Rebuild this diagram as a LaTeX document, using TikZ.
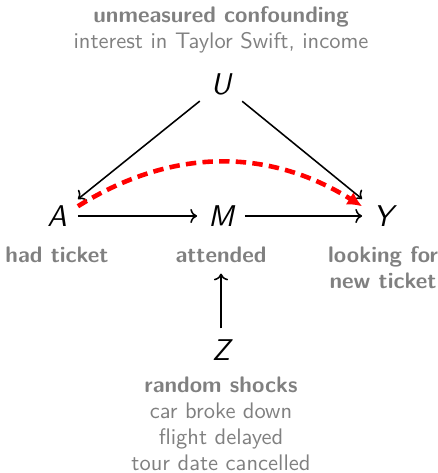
\documentclass[tikz,border=0pt]{standalone}
\usetikzlibrary{arrows.meta}

\tikzset{every picture/.style={line width=0.75pt}}
\tikzset{
  var/.style={font=\sffamily\itshape\Large, inner sep=5pt},
  note/.style={font=\sffamily\fontsize{10.8pt}{12.4pt}\selectfont, text=gray, align=center, inner sep=0.75pt},
  notehead/.style={note, font=\sffamily\bfseries\fontsize{10.8pt}{12.4pt}\selectfont},
  causal/.style={->},
  bias/.style={-{Latex[length=7pt,width=7pt]}, draw=red, line width=2.2pt, dash pattern=on 5pt off 3pt},
}

\begin{document}
\begin{tikzpicture}[x=0.48pt,y=0.48pt,yscale=-1,xscale=1]
\useasboundingbox (0,0) rectangle (438,473);

% Variables
\node [var] (U) at (221,84) {U};
\node [var] (A) at (57,216) {A};
\node [var] (M) at (221,216) {M};
\node [var] (Y) at (383,216) {Y};
\node [var] (Z) at (221,350) {Z};

% Text Node
\node [note] (Unote) at (221,30) {\textbf{unmeasured confounding}\\interest in Taylor Swift, income};
% Text Node
\node [notehead] (Anote) at (57,255) {had ticket};
% Text Node
\node [notehead] (Mnote) at (221,255) {attended};
% Text Node
\node [notehead] (Ynote) at (383,268) {looking for\\new ticket};
% Text Node
\node [note] (Znote) at (221,424) {\textbf{random shocks}\\car broke down\\flight delayed\\tour date cancelled};

% Arrows
\draw [causal] (U) -- (A);
\draw [causal] (U) -- (Y);
\draw [causal] (A) -- (M);
\draw [causal] (M) -- (Y);
\draw [causal, shorten >=4pt] (Z) -- (Mnote);

% Biasing path
\draw [bias] (A.25) to [bend right=32] (Y.155);

\end{tikzpicture}
\end{document}
